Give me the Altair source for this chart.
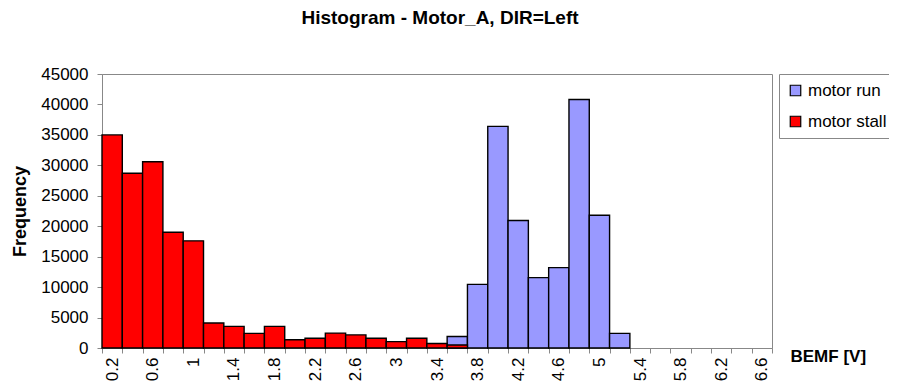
import altair as alt
import pandas as pd

bins = ["0.2", "0.4", "0.6", "0.8", "1", "1.2", "1.4", "1.6", "1.8", "2",
        "2.2", "2.4", "2.6", "2.8", "3", "3.2", "3.4", "3.6", "3.8", "4",
        "4.2", "4.4", "4.6", "4.8", "5", "5.2", "5.4", "5.6", "5.8", "6",
        "6.2", "6.4", "6.6"]
motor_stall = [35000, 28700, 30600, 19000, 17600, 4100, 3550, 2400, 3550, 1350,
               1600, 2450, 2150, 1600, 1050, 1600, 750, 500, 0, 0,
               0, 0, 0, 0, 0, 0, 0, 0, 0, 0,
               0, 0, 0]
motor_run = [0, 0, 0, 0, 0, 0, 0, 0, 0, 0,
             0, 0, 0, 0, 0, 0, 0, 1900, 10450, 36400,
             20950, 11550, 13200, 40800, 21800, 2400, 0, 0, 0, 0,
             0, 0, 0]
x_labels = ["0.2", "0.6", "1", "1.4", "1.8", "2.2", "2.6", "3", "3.4", "3.8",
            "4.2", "4.6", "5", "5.4", "5.8", "6.2", "6.6"]
y_ticks = [0, 5000, 10000, 15000, 20000, 25000, 30000, 35000, 40000, 45000]
series = ["motor run", "motor stall"]
colors = ["#9999FF", "#FF0000"]

rows = []
for b, v in zip(bins, motor_run):
    if v > 0:
        rows.append({"bin": b, "freq": v, "series": "motor run"})
for b, v in zip(bins, motor_stall):
    if v > 0:
        rows.append({"bin": b, "freq": v, "series": "motor stall"})
df = pd.DataFrame(rows)

FONT = "Liberation Sans"
label_list = "[" + ",".join("'" + s + "'" for s in x_labels) + "]"

chart = alt.Chart(df).mark_bar(stroke="black", strokeWidth=1.4, strokeOpacity=1).encode(
    x=alt.X("bin:O", sort=bins,
            scale=alt.Scale(domain=bins, paddingInner=0, paddingOuter=0),
            axis=alt.Axis(labelAngle=-90, labelAlign="right", labelBaseline="middle",
                          labelExpr="indexof(" + label_list + ", datum.label) >= 0 ? datum.label : ''",
                          tickBand="extent", tickSize=5, tickColor="#888",
                          domainColor="#888", labelPadding=4,
                          labelFont=FONT, labelFontSize=17, labelColor="black",
                          title="BEMF [V]", titleX=688, titleY=8, titleAlign="left",
                          titleBaseline="middle", titleAngle=0, titleFont=FONT,
                          titleFontSize=17, titleFontWeight="bold", titleColor="black")),
    y=alt.Y("freq:Q", stack=None,
            scale=alt.Scale(domain=[0, 45000], nice=False),
            axis=alt.Axis(values=y_ticks, format="d", grid=False, tickSize=5,
                          tickColor="#888", domainColor="#888", labelPadding=9,
                          labelFont=FONT, labelFontSize=17, labelColor="black",
                          title="Frequency", titleFont=FONT, titleFontSize=18,
                          titleFontWeight="bold", titleColor="black", titlePadding=11)),
    color=alt.Color("series:N", scale=alt.Scale(domain=series, range=colors),
                    legend=alt.Legend(title=None, orient="none", legendX=677, legendY=0,
                                      symbolType="square", symbolSize=110,
                                      symbolStrokeColor="black", symbolStrokeWidth=1.2,
                                      labelFont=FONT, labelFontSize=17, labelColor="black",
                                      strokeColor="#888", padding=8, rowPadding=13,
                                      fillColor="white")),
    order=alt.Order("series:N")
).properties(
    width=670, height=274,
    title=alt.TitleParams("Histogram - Motor_A, DIR=Left", font=FONT, fontSize=19,
                          fontWeight="bold", anchor="middle", dx=3, dy=-33, color="black"),
    autosize=alt.AutoSizeParams(type="none"),
    padding={"left": 94, "top": 66, "right": 117, "bottom": 34}
).configure_view(stroke="#888", strokeWidth=1)

chart.save("out.html", embed_options={"renderer": "svg", "actions": False})
